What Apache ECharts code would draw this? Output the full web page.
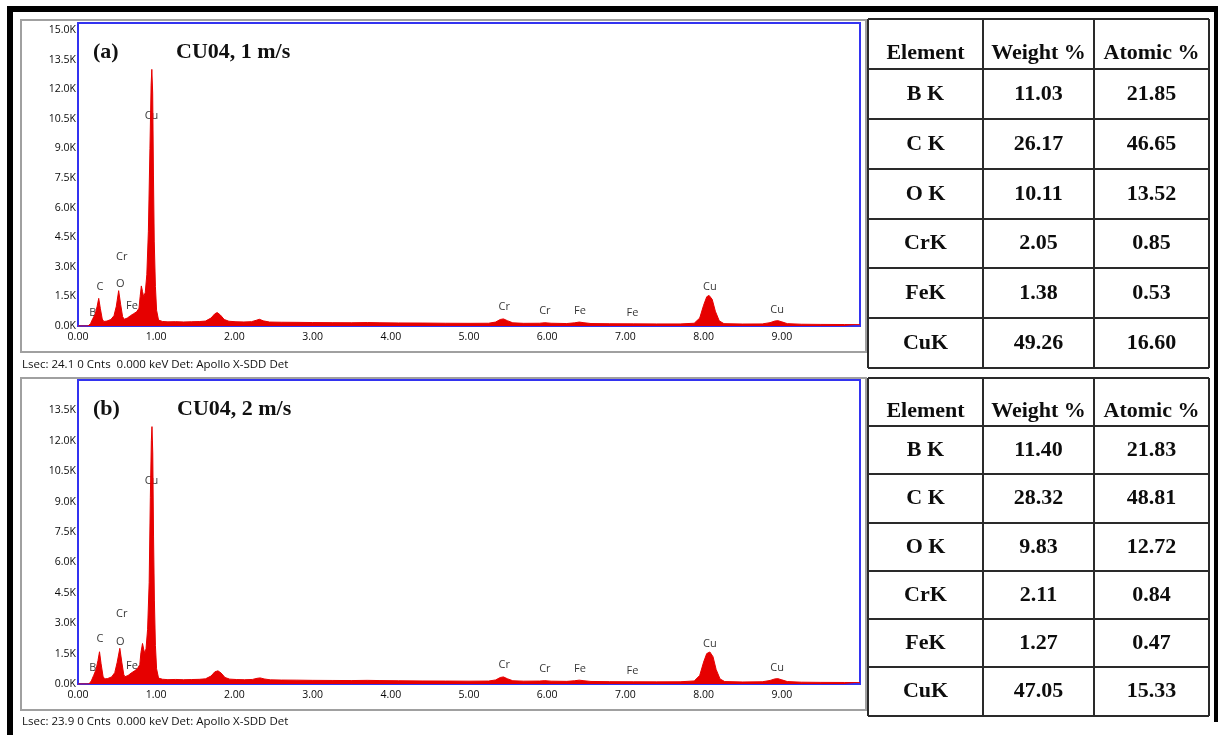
<!DOCTYPE html>
<html>
<head>
<meta charset="utf-8">
<title>EDS spectra CU04</title>
<script src="https://cdn.jsdelivr.net/npm/echarts@6/dist/echarts.min.js"></script>
<style>
  html, body { margin: 0; padding: 0; background: #fff; }
  #main { width: 1218px; height: 735px; }
</style>
</head>
<body>
<div id="main"></div>
<script>
// (a) CU04, 1 m/s  -- [keV, counts]
const spectrumA = [
  [0.00, 0], [0.13, 0], [0.16, 120], [0.19, 380], [0.22, 600], [0.245, 1000], [0.265, 1400], [0.285, 900],
  [0.31, 350], [0.33, 230], [0.37, 250], [0.42, 330], [0.46, 520], [0.49, 1000], [0.52, 1790], [0.545, 1100],
  [0.57, 480], [0.59, 340], [0.63, 400], [0.67, 520], [0.71, 620], [0.75, 720], [0.78, 900], [0.795, 1500],
  [0.81, 2030], [0.825, 1750], [0.84, 1480], [0.86, 1700], [0.88, 2600], [0.90, 4800], [0.92, 9000], [0.935, 12200],
  [0.944, 13000], [0.955, 11800], [0.965, 7600], [0.975, 4300], [0.99, 2000], [1.005, 800], [1.03, 300], [1.08, 230],
  [1.15, 210], [1.25, 220], [1.35, 205], [1.45, 215], [1.55, 225], [1.63, 250], [1.70, 400], [1.75, 620],
  [1.78, 680], [1.82, 560], [1.87, 330], [1.93, 240], [2.02, 215], [2.12, 205], [2.22, 220], [2.28, 290],
  [2.32, 340], [2.37, 260], [2.45, 200], [2.60, 190], [2.80, 185], [3.00, 175], [3.25, 170], [3.50, 165],
  [3.70, 175], [3.85, 165], [4.10, 155], [4.40, 150], [4.70, 140], [5.00, 135], [5.25, 140], [5.34, 200],
  [5.40, 330], [5.44, 360], [5.49, 270], [5.56, 160], [5.70, 135], [5.90, 140], [5.97, 165], [6.05, 140],
  [6.25, 125], [6.35, 160], [6.41, 200], [6.47, 165], [6.56, 125], [6.80, 115], [7.10, 110], [7.40, 105],
  [7.70, 105], [7.88, 140], [7.95, 400], [8.00, 1050], [8.04, 1480], [8.07, 1550], [8.11, 1350], [8.15, 750],
  [8.20, 260], [8.26, 120], [8.50, 100], [8.75, 105], [8.85, 170], [8.91, 250], [8.95, 270], [9.00, 210],
  [9.07, 120], [9.25, 90], [9.50, 80], [9.80, 75], [10.00, 70]
]

// (b) CU04, 2 m/s
const spectrumB = [
  [0.00, 0], [0.14, 0], [0.17, 150], [0.20, 420], [0.23, 700], [0.255, 1150], [0.275, 1590], [0.295, 1000],
  [0.32, 380], [0.34, 250], [0.38, 270], [0.43, 350], [0.47, 560], [0.50, 1050], [0.535, 1760], [0.56, 1080],
  [0.585, 470], [0.60, 360], [0.64, 420], [0.68, 540], [0.72, 640], [0.76, 760], [0.79, 950], [0.805, 1550],
  [0.825, 2000], [0.84, 1720], [0.855, 1500], [0.87, 1750], [0.89, 2700], [0.91, 5000], [0.925, 9200], [0.938, 12000],
  [0.946, 12700], [0.956, 11400], [0.966, 7300], [0.977, 4100], [0.99, 1900], [1.005, 750], [1.03, 290], [1.08, 235],
  [1.15, 215], [1.25, 225], [1.35, 210], [1.45, 220], [1.55, 230], [1.63, 255], [1.70, 390], [1.75, 600],
  [1.79, 650], [1.83, 540], [1.88, 320], [1.94, 240], [2.03, 220], [2.13, 210], [2.23, 225], [2.29, 280],
  [2.33, 300], [2.38, 250], [2.46, 205], [2.60, 195], [2.80, 190], [3.00, 180], [3.25, 175], [3.50, 170],
  [3.70, 180], [3.85, 170], [4.10, 160], [4.40, 150], [4.70, 145], [5.00, 140], [5.25, 145], [5.34, 200],
  [5.40, 320], [5.44, 350], [5.49, 260], [5.56, 160], [5.70, 140], [5.90, 145], [5.97, 165], [6.05, 140],
  [6.25, 130], [6.35, 160], [6.41, 190], [6.47, 160], [6.56, 125], [6.80, 115], [7.10, 110], [7.40, 105],
  [7.70, 110], [7.88, 150], [7.95, 420], [8.00, 1080], [8.04, 1500], [8.08, 1580], [8.12, 1350], [8.16, 720],
  [8.21, 250], [8.27, 120], [8.50, 100], [8.75, 110], [8.85, 175], [8.91, 250], [8.95, 265], [9.00, 205],
  [9.07, 120], [9.25, 90], [9.50, 80], [9.80, 75], [10.00, 70]
]

// peak tags: name, keV, label height (counts)
const peakNames = ['B', 'C', 'O', 'Cr', 'Fe', 'Cu', 'Cr', 'Cr', 'Fe', 'Fe', 'Cu', 'Cu']
const peakKeV = [0.19, 0.28, 0.54, 0.56, 0.69, 0.94, 5.45, 5.97, 6.42, 7.09, 8.08, 8.94]
const peakTagA = [660, 1980, 2130, 3500, 1010, 10640, 960, 760, 760, 660, 1980, 810]
const peakTagB = [790, 2220, 2070, 3450, 890, 10020, 940, 740, 740, 640, 1970, 790]

// quantification tables
const elements = ['B K', 'C K', 'O K', 'CrK', 'FeK', 'CuK']
const weightA = [11.03, 26.17, 10.11, 2.05, 1.38, 49.26]
const atomicA = [21.85, 46.65, 13.52, 0.85, 0.53, 16.60]
const weightB = [11.40, 28.32, 9.83, 2.11, 1.27, 47.05]
const atomicB = [21.83, 48.81, 12.72, 0.84, 0.47, 15.33]
const headers = ['Element', 'Weight %', 'Atomic %']

const serif = '"Liberation Serif", "Times New Roman", serif'
const sans = '"Open Sans", "Noto Sans", sans-serif'

const colX = [868, 983, 1094, 1209]
const rowsA = [19, 69, 119, 169, 219, 268, 318, 368]
const rowsB = [378, 426, 474, 523, 571, 619, 667, 716]

function table (weights, atomics, ys) {
  const g = []
  colX.forEach(x => g.push({ type: 'line', shape: { x1: x, y1: ys[0], x2: x, y2: ys[ys.length - 1] }, style: { stroke: '#2a2a2a', lineWidth: 2 } }))
  ys.forEach(y => g.push({ type: 'line', shape: { x1: colX[0], y1: y, x2: colX[3], y2: y }, style: { stroke: '#2a2a2a', lineWidth: 2 } }))
  const cx = [0, 1, 2].map(i => (colX[i] + colX[i + 1]) / 2)
  const cell = (t, x, y) => ({ type: 'text', x: x, y: y, style: { text: t, font: 'bold 22px ' + serif, fill: '#0d0d0d', align: 'center', verticalAlign: 'middle' } })
  headers.forEach((h, i) => g.push(cell(h, cx[i], (ys[0] + ys[1]) / 2 + 9)))
  elements.forEach((el, r) => {
    const y = (ys[r + 1] + ys[r + 2]) / 2
    g.push(cell(el, cx[0], y))
    g.push(cell(weights[r].toFixed(2), cx[1], y))
    g.push(cell(atomics[r].toFixed(2), cx[2], y))
  })
  return g
}

function txt (t, x, y, font) {
  return { type: 'text', x: x, y: y, style: { text: t, font: font, fill: '#111', verticalAlign: 'middle' } }
}

const graphics = [
  // outer black frame
  { type: 'rect', shape: { x: 7, y: 6, width: 1211, height: 6 }, style: { fill: '#000' } },
  { type: 'rect', shape: { x: 7, y: 6, width: 6, height: 729 }, style: { fill: '#000' } },
  { type: 'rect', shape: { x: 1214, y: 6, width: 4, height: 716 }, style: { fill: '#000' } },
  // grey chart boxes
  { type: 'rect', shape: { x: 21, y: 20, width: 845, height: 332 }, style: { fill: 'none', stroke: '#a0a0a0', lineWidth: 2 } },
  { type: 'rect', shape: { x: 21, y: 378, width: 845, height: 332 }, style: { fill: 'none', stroke: '#a0a0a0', lineWidth: 2 } },
  txt('(a)', 93, 52, 'bold 22px ' + serif),
  txt('CU04, 1 m/s', 176, 52, 'bold 22px ' + serif),
  txt('(b)', 93, 409, 'bold 22px ' + serif),
  txt('CU04, 2 m/s', 177, 409, 'bold 22px ' + serif),
  txt('Lsec: 24.1 0 Cnts  0.000 keV Det: Apollo X-SDD Det', 22, 365, '11.5px ' + sans),
  txt('Lsec: 23.9 0 Cnts  0.000 keV Det: Apollo X-SDD Det', 22, 722, '11.5px ' + sans)
].concat(table(weightA, atomicA, rowsA), table(weightB, atomicB, rowsB))

const axisFont = { fontFamily: sans, fontSize: 10.5, color: '#0a0a0a' }

function xAxis (gi) {
  return {
    type: 'value', gridIndex: gi, min: 0, max: 10, interval: 1,
    axisLine: { show: false }, axisTick: { show: false }, splitLine: { show: false },
    axisLabel: Object.assign({ margin: 6, showMaxLabel: false, formatter: v => v.toFixed(2) }, axisFont)
  }
}
function yAxis (gi, max) {
  return {
    type: 'value', gridIndex: gi, min: 0, max: max, interval: 1500,
    axisLine: { show: false }, axisTick: { show: false }, splitLine: { show: false },
    axisLabel: Object.assign({ margin: 2, showMaxLabel: false, formatter: v => (v / 1000).toFixed(1) + 'K' }, axisFont)
  }
}
function spectrum (data, gi) {
  return {
    type: 'line', xAxisIndex: gi, yAxisIndex: gi, data: data, showSymbol: false, silent: true,
    lineStyle: { color: '#e60000', width: 1 }, areaStyle: { color: '#e60000', opacity: 1 }
  }
}
function tags (heights, gi) {
  return {
    type: 'scatter', xAxisIndex: gi, yAxisIndex: gi, symbolSize: 1, silent: true,
    itemStyle: { color: 'rgba(0,0,0,0)' },
    label: { show: true, position: 'inside', formatter: '{b}', fontFamily: sans, fontSize: 11, color: '#000' },
    data: peakNames.map((n, i) => ({ name: n, value: [peakKeV[i], heights[i]] }))
  }
}

const chart = echarts.init(document.getElementById('main'))
chart.setOption({
  animation: false,
  backgroundColor: '#fff',
  grid: [
    { left: 78, top: 23, width: 782, height: 303, show: true, borderColor: '#3333f0', borderWidth: 2, backgroundColor: '#fff' },
    { left: 78, top: 380, width: 782, height: 304, show: true, borderColor: '#3333f0', borderWidth: 2, backgroundColor: '#fff' }
  ],
  xAxis: [xAxis(0), xAxis(1)],
  yAxis: [yAxis(0, 15350), yAxis(1, 15000)],
  series: [spectrum(spectrumA, 0), spectrum(spectrumB, 1), tags(peakTagA, 0), tags(peakTagB, 1)],
  graphic: graphics
})
</script>
</body>
</html>
